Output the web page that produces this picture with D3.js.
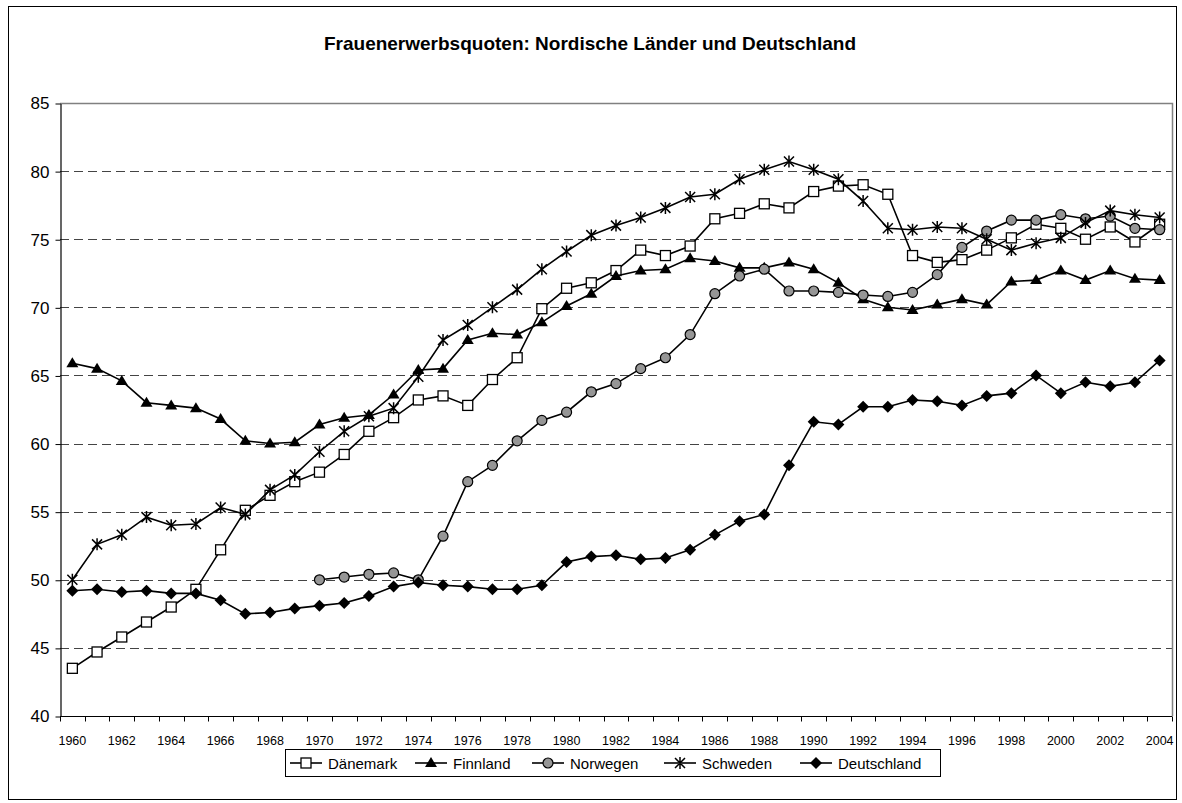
<!DOCTYPE html>
<html>
<head>
<meta charset="utf-8">
<script src="https://cdn.jsdelivr.net/npm/d3@7"></script>
<style>
  body { margin: 0; background: #fff; }
  svg { font-family: "Liberation Sans", Arial, sans-serif; }
</style>
</head>
<body>
<svg id="chart" width="1182" height="803"></svg>
<script>
// data
var years = d3.range(1960, 2005);
var yTicks = [40, 45, 50, 55, 60, 65, 70, 75, 80, 85];

var daenemark = [43.5, 44.7, 45.8, 46.9, 48.0, 49.3, 52.2, 55.1, 56.2, 57.2,
  57.9, 59.2, 60.9, 61.9, 63.2, 63.5, 62.8, 64.7, 66.3, 69.9,
  71.4, 71.8, 72.7, 74.2, 73.8, 74.5, 76.5, 76.9, 77.6, 77.3,
  78.5, 78.9, 79.0, 78.3, 73.8, 73.3, 73.5, 74.2, 75.1, 76.1,
  75.8, 75.0, 75.9, 74.8, 76.1];
var finnland = [65.9, 65.5, 64.6, 63.0, 62.8, 62.6, 61.8, 60.2, 60.0, 60.1,
  61.4, 61.9, 62.1, 63.6, 65.4, 65.5, 67.6, 68.1, 68.0, 68.9,
  70.1, 71.0, 72.3, 72.7, 72.8, 73.6, 73.4, 72.9, 72.9, 73.3,
  72.8, 71.8, 70.6, 70.0, 69.8, 70.2, 70.6, 70.2, 71.9, 72.0,
  72.7, 72.0, 72.7, 72.1, 72.0];
var norwegen = [null, null, null, null, null, null, null, null, null, null,
  50.0, 50.2, 50.4, 50.5, 50.0, 53.2, 57.2, 58.4, 60.2, 61.7,
  62.3, 63.8, 64.4, 65.5, 66.3, 68.0, 71.0, 72.3, 72.8, 71.2,
  71.2, 71.1, 70.9, 70.8, 71.1, 72.4, 74.4, 75.6, 76.4, 76.4,
  76.8, 76.5, 76.7, 75.8, 75.7];
var schweden = [50.0, 52.6, 53.3, 54.6, 54.0, 54.1, 55.3, 54.8, 56.6, 57.7,
  59.4, 60.9, 62.0, 62.6, 64.9, 67.6, 68.7, 70.0, 71.3, 72.8,
  74.1, 75.3, 76.0, 76.6, 77.3, 78.1, 78.3, 79.4, 80.1, 80.7,
  80.1, 79.4, 77.8, 75.8, 75.7, 75.9, 75.8, 75.0, 74.2, 74.7,
  75.1, 76.2, 77.1, 76.8, 76.6];
var deutschland = [49.2, 49.3, 49.1, 49.2, 49.0, 49.0, 48.5, 47.5, 47.6, 47.9,
  48.1, 48.3, 48.8, 49.5, 49.8, 49.6, 49.5, 49.3, 49.3, 49.6,
  51.3, 51.7, 51.8, 51.5, 51.6, 52.2, 53.3, 54.3, 54.8, 58.4,
  61.6, 61.4, 62.7, 62.7, 63.2, 63.1, 62.8, 63.5, 63.7, 65.0,
  63.7, 64.5, 64.2, 64.5, 66.1];

var seriesNames = ["Dänemark", "Finnland", "Norwegen", "Schweden", "Deutschland"];
var seriesValues = [daenemark, finnland, norwegen, schweden, deutschland];
var seriesMarkers = ["square", "triangle", "circle", "star", "diamond"];

var svg = d3.select("#chart");

// outer border
svg.append("rect")
  .attr("x", 8.5).attr("y", 6.5)
  .attr("width", 1168).attr("height", 793)
  .attr("fill", "#fff").attr("stroke", "#000").attr("stroke-width", 1);

svg.append("text")
  .attr("x", 590).attr("y", 50)
  .attr("text-anchor", "middle")
  .attr("font-size", 19).attr("font-weight", "bold")
  .text("Frauenerwerbsquoten: Nordische Länder und Deutschland");

var plotLeft = 60, plotRight = 1172, plotTop = 103, plotBottom = 716;

var x = d3.scaleBand()
  .domain(years)
  .range([plotLeft, plotRight])
  .padding(0);

var y = d3.scaleLinear()
  .domain([40, 85])
  .range([plotBottom, plotTop]);

function cx(i) { return x(years[i]) + x.bandwidth() / 2; }

// gridlines
svg.append("g")
  .selectAll("line")
  .data(yTicks.filter(function (d) { return d > 40 && d < 85; }))
  .enter()
  .append("line")
    .attr("x1", plotLeft).attr("x2", plotRight)
    .attr("y1", function (d) { return Math.round(y(d)) + 0.5; })
    .attr("y2", function (d) { return Math.round(y(d)) + 0.5; })
    .attr("stroke", "#444")
    .attr("stroke-width", 1)
    .attr("stroke-dasharray", "9,5");

// plot area border top/right
svg.append("path")
  .attr("d", "M" + plotLeft + "," + (plotTop + 0.5) + "H" + (plotRight + 0.5) + "V" + plotBottom)
  .attr("fill", "none")
  .attr("stroke", "#808080")
  .attr("stroke-width", 1.5);

// y axis
var yAxis = svg.append("g")
  .attr("transform", "translate(" + (plotLeft + 0.5) + ",0.5)")
  .call(d3.axisLeft(y).tickValues(yTicks).tickSize(5).tickSizeOuter(0).tickPadding(6));
yAxis.selectAll("text").attr("font-size", 17).attr("fill", "#000")
  .style("font-family", "'Liberation Sans', Arial, sans-serif");
yAxis.select(".domain").attr("stroke", "#000").attr("stroke-width", 1.2);
yAxis.selectAll(".tick line").attr("stroke", "#000");

// x axis with ticks at category boundaries
var xAxisG = svg.append("g")
  .attr("transform", "translate(0," + (plotBottom + 0.5) + ")");
xAxisG.append("line")
  .attr("x1", plotLeft).attr("x2", plotRight)
  .attr("stroke", "#000").attr("stroke-width", 1.2);
xAxisG.selectAll(".btick")
  .data(years.concat([2005]))
  .enter()
  .append("line")
    .attr("class", "btick")
    .attr("x1", function (d, i) { return Math.round(plotLeft + i * x.bandwidth()) + 0.5; })
    .attr("x2", function (d, i) { return Math.round(plotLeft + i * x.bandwidth()) + 0.5; })
    .attr("y1", 0).attr("y2", 5)
    .attr("stroke", "#000");
xAxisG.selectAll(".xlab")
  .data(years.filter(function (d) { return d % 2 === 0; }))
  .enter()
  .append("text")
    .attr("class", "xlab")
    .attr("x", function (d) { return x(d) + x.bandwidth() / 2; })
    .attr("y", 28)
    .attr("text-anchor", "middle")
    .attr("font-size", 12.5)
    .text(function (d) { return d; });

// markers
function drawMarker(g, type, px, py) {
  if (type === "square") {
    g.append("rect").attr("x", px - 5).attr("y", py - 5)
      .attr("width", 10).attr("height", 10)
      .attr("fill", "#fff").attr("stroke", "#000").attr("stroke-width", 1.3);
  } else if (type === "triangle") {
    g.append("path")
      .attr("d", "M" + px + "," + (py - 6) + "L" + (px + 6) + "," + (py + 4) + "L" + (px - 6) + "," + (py + 4) + "Z")
      .attr("fill", "#000");
  } else if (type === "circle") {
    g.append("circle").attr("cx", px).attr("cy", py).attr("r", 5)
      .attr("fill", "#969696").attr("stroke", "#000").attr("stroke-width", 1.2);
  } else if (type === "star") {
    g.append("path")
      .attr("d", "M" + (px - 5) + "," + (py - 5) + "L" + (px + 5) + "," + (py + 5) +
        "M" + (px + 5) + "," + (py - 5) + "L" + (px - 5) + "," + (py + 5) +
        "M" + px + "," + (py - 6) + "L" + px + "," + (py + 6))
      .attr("stroke", "#000").attr("stroke-width", 1.5).attr("fill", "none");
  } else if (type === "diamond") {
    g.append("path")
      .attr("d", "M" + px + "," + (py - 6) + "L" + (px + 6) + "," + py + "L" + px + "," + (py + 6) + "L" + (px - 6) + "," + py + "Z")
      .attr("fill", "#000");
  }
}

var line = d3.line()
  .defined(function (d) { return d != null; })
  .x(function (d, i) { return cx(i); })
  .y(function (d) { return y(d); });

seriesValues.forEach(function (vals, k) {
  var g = svg.append("g");
  g.append("path")
    .datum(vals)
    .attr("d", line)
    .attr("fill", "none")
    .attr("stroke", "#000")
    .attr("stroke-width", 1.6);
  vals.forEach(function (v, i) {
    if (v == null) return;
    drawMarker(g, seriesMarkers[k], cx(i), y(v));
  });
});

// legend
var legX = 285, legY = 749, legW = 655, legH = 27;
svg.append("rect")
  .attr("x", legX + 0.5).attr("y", legY + 0.5)
  .attr("width", legW).attr("height", legH)
  .attr("fill", "#fff").attr("stroke", "#000");

var legStarts = [290, 415, 532, 664, 800];
seriesNames.forEach(function (name, k) {
  var g = svg.append("g");
  var lx = legStarts[k], ly = legY + legH / 2 + 0.5;
  g.append("line")
    .attr("x1", lx).attr("x2", lx + 32)
    .attr("y1", ly).attr("y2", ly)
    .attr("stroke", "#000").attr("stroke-width", 1.6);
  drawMarker(g, seriesMarkers[k], lx + 16, ly);
  g.append("text")
    .attr("x", lx + 38).attr("y", ly + 5.5)
    .attr("font-size", 15)
    .text(name);
});
</script>
</body>
</html>
